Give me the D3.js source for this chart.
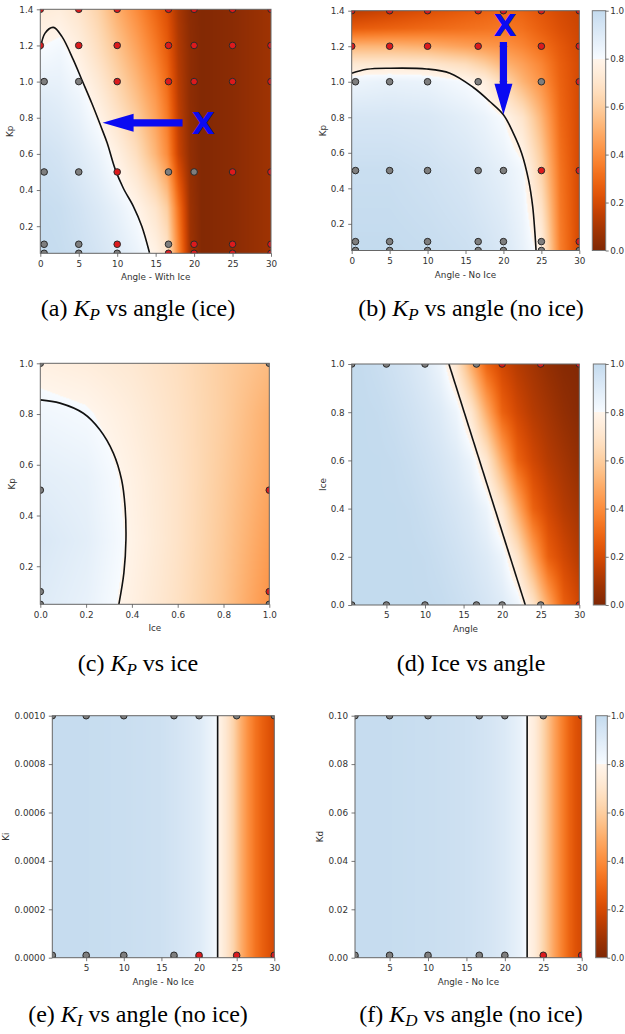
<!DOCTYPE html>
<html><head><meta charset="utf-8">
<script src="https://cdn.jsdelivr.net/npm/d3@7"></script>
<style>body{margin:0;background:#fff}svg{display:block}</style>
</head><body><svg id="fig" width="625" height="1034"></svg>
<script>
// ---------------- DATA ----------------
// (a) Kp vs angle (with ice): surface samples
const aXs = [0, 2.5, 5, 7.5, 10, 12.5, 15, 16.5, 18, 19.5, 21, 25, 30];
const aYs = [0.05, 0.3, 0.6, 0.9, 1.15, 1.4];
const aZ = [
  [1.0, 0.99, 0.97, 0.94, 0.90, 0.85, 0.78, 0.70, 0.38, 0.08, 0.01, 0.03, 0.08],
  [0.99, 0.98, 0.95, 0.91, 0.86, 0.795, 0.70, 0.60, 0.32, 0.07, 0.01, 0.03, 0.08],
  [0.96, 0.94, 0.90, 0.85, 0.77, 0.67, 0.52, 0.40, 0.17, 0.05, 0.01, 0.03, 0.08],
  [0.90, 0.88, 0.84, 0.76, 0.66, 0.56, 0.44, 0.33, 0.14, 0.04, 0.01, 0.03, 0.08],
  [0.81, 0.83, 0.77, 0.68, 0.58, 0.48, 0.36, 0.27, 0.12, 0.04, 0.01, 0.03, 0.08],
  [0.74, 0.75, 0.70, 0.62, 0.50, 0.40, 0.29, 0.22, 0.10, 0.03, 0.01, 0.03, 0.08]
];
const aContour = [[0,1.175],[0.6,1.267],[1.7,1.30],[2.8,1.25],[4.3,1.12],[5.4,1.01],[6.7,0.88],[7.9,0.75],[8.7,0.66],[9.7,0.52],[10.8,0.41],[12.1,0.31],[13.2,0.2],[14.2,0.053]];
const aPoints = [
  [0,1.4,"r"],[5,1.4,"r"],[10,1.4,"r"],[16.67,1.4,"r"],[20,1.4,"r"],[25,1.4,"r"],[30,1.4,"r"],
  [0,1.2,"r"],[5,1.2,"r"],[10,1.2,"r"],[16.67,1.2,"r"],[20,1.2,"r"],[25,1.2,"r"],[30,1.2,"r"],
  [0.5,1.0,"g"],[5,1.0,"g"],[10,1.0,"r"],[16.67,1.0,"r"],[20,1.0,"r"],[25,1.0,"r"],[30,1.0,"r"],
  [0.5,0.5,"g"],[5,0.5,"g"],[10,0.5,"r"],[16.67,0.5,"g"],[20,0.5,"g"],[25,0.5,"r"],[30,0.5,"r"],
  [0.5,0.1,"g"],[5,0.1,"g"],[10,0.1,"r"],[16.67,0.1,"g"],[20,0.1,"r"],[25,0.1,"r"],[30,0.1,"r"],
  [0.5,0.05,"g"],[5,0.05,"g"],[10,0.05,"g"],[16.67,0.05,"r"],[20,0.05,"r"],[25,0.05,"r"],[30,0.05,"r"]
];

// (b) Kp vs angle (no ice)
const bXs = [0, 5, 10, 15, 17.5, 20, 22.5, 25, 27.5, 30];
const bYs = [0.05, 0.5, 0.8, 1.0, 1.1, 1.2, 1.3, 1.4];
const bZ = [
  [1.0, 1.0, 0.99, 0.97, 0.95, 0.92, 0.86, 0.77, 0.36, 0.2],
  [0.98, 0.98, 0.96, 0.93, 0.90, 0.87, 0.82, 0.62, 0.33, 0.2],
  [0.93, 0.93, 0.92, 0.88, 0.85, 0.80, 0.70, 0.52, 0.30, 0.2],
  [0.84, 0.86, 0.85, 0.805, 0.76, 0.64, 0.52, 0.42, 0.28, 0.2],
  [0.72, 0.72, 0.71, 0.66, 0.60, 0.52, 0.46, 0.38, 0.27, 0.2],
  [0.52, 0.52, 0.50, 0.46, 0.44, 0.42, 0.38, 0.32, 0.25, 0.19],
  [0.26, 0.28, 0.30, 0.32, 0.33, 0.34, 0.32, 0.27, 0.22, 0.18],
  [0.14, 0.18, 0.22, 0.26, 0.28, 0.30, 0.28, 0.24, 0.20, 0.17]
];
const bContour = [[0,1.048],[2,1.07],[5,1.076],[9.9,1.072],[12.95,1.048],[16,0.969],[18.2,0.889],[20,0.814],[21.3,0.711],[22.4,0.598],[23.3,0.449],[23.85,0.30],[24.15,0.149],[24.3,0.05]];
const bPoints = [
  [0,1.4,"r"],[5,1.4,"r"],[10,1.4,"r"],[16.67,1.4,"r"],[20,1.4,"r"],[25,1.4,"r"],[30,1.4,"r"],
  [0,1.2,"r"],[5,1.2,"r"],[10,1.2,"r"],[16.67,1.2,"r"],[20,1.2,"r"],[25,1.2,"r"],[30,1.2,"r"],
  [0.5,1.0,"g"],[5,1.0,"g"],[10,1.0,"g"],[16.67,1.0,"g"],[20,1.0,"g"],[25,1.0,"g"],[30,1.0,"r"],
  [0.5,0.5,"g"],[5,0.5,"g"],[10,0.5,"g"],[16.67,0.5,"g"],[20,0.5,"g"],[25,0.5,"r"],[30,0.5,"r"],
  [0.5,0.1,"g"],[5,0.1,"g"],[10,0.1,"g"],[16.67,0.1,"g"],[20,0.1,"g"],[25,0.1,"g"],[30,0.1,"r"],
  [0.5,0.05,"g"],[5,0.05,"g"],[10,0.05,"g"],[16.67,0.05,"g"],[20,0.05,"g"],[25,0.05,"g"],[30,0.05,"g"]
];

// (c) Kp vs ice
const cXs = [0, 0.2, 0.4, 0.6, 0.8, 1.0];
const cYs = [0.05, 0.3, 0.55, 0.8, 1.0];
const cZ = [
  [0.90, 0.86, 0.77, 0.68, 0.57, 0.42],
  [0.92, 0.88, 0.785, 0.69, 0.58, 0.45],
  [0.88, 0.86, 0.775, 0.69, 0.59, 0.48],
  [0.83, 0.81, 0.75, 0.68, 0.60, 0.50],
  [0.77, 0.75, 0.72, 0.67, 0.60, 0.54]
];
const cContour = [[0,0.856],[0.086,0.843],[0.188,0.803],[0.26,0.738],[0.319,0.646],[0.355,0.541],[0.37,0.436],[0.374,0.305],[0.365,0.174],[0.343,0.05]];
const cPoints = [[0,1.0,"g"],[0,0.5,"g"],[0,0.1,"g"],[0,0.05,"g"],[1,1.0,"g"],[1,0.5,"r"],[1,0.1,"r"],[1,0.05,"g"]];

// (d) Ice vs angle
const dXs = [0.5, 2, 4, 6, 8, 10, 12, 14, 16, 18, 20, 22, 24, 26, 28, 30];
const dYs = [0, 0.2, 0.4, 0.6, 0.8, 1.0];
const dZ = [
  [1,1,1,1,1,1,0.995,0.98,0.96,0.935,0.9,0.84,0.70,0.48,0.27,0.19],
  [1,1,1,1,1,0.995,0.98,0.96,0.935,0.9,0.84,0.70,0.48,0.27,0.19,0.13],
  [1,1,1,1,0.995,0.98,0.96,0.935,0.9,0.84,0.71,0.49,0.28,0.19,0.13,0.09],
  [1,1,1,0.995,0.98,0.96,0.935,0.9,0.84,0.71,0.49,0.28,0.19,0.13,0.09,0.05],
  [1,1,0.995,0.98,0.96,0.935,0.9,0.84,0.71,0.49,0.28,0.19,0.13,0.09,0.05,0.02],
  [1,0.995,0.98,0.96,0.935,0.9,0.84,0.71,0.49,0.28,0.19,0.13,0.09,0.05,0.02,0.01]
];
const dContour = [[13.1,1.0],[23.0,0.0]];
const dPoints = [
  [0.5,1,"g"],[5,1,"g"],[10,1,"g"],[16.67,1,"g"],[20,1,"r"],[25,1,"r"],[30,1,"r"],
  [0.5,0,"g"],[5,0,"g"],[10,0,"g"],[16.67,0,"g"],[20,0,"g"],[25,0,"g"],[30,0,"r"]
];

// (e) Ki vs angle (no ice)
const eXs = [0.5, 5, 10, 15, 18, 20, 21.5, 22.5, 23.5, 24.5, 25.5, 26.5, 27.5, 28.5, 30];
const eZ = [0.99, 0.99, 0.98, 0.965, 0.93, 0.9, 0.85, 0.8, 0.72, 0.63, 0.51, 0.41, 0.33, 0.27, 0.2];
const eContour = [[22.47,0],[22.47,0.001]];
const ePoints = [
  [0.5,0.001,"g"],[5,0.001,"g"],[10,0.001,"g"],[16.67,0.001,"g"],[20,0.001,"g"],[25,0.001,"g"],[30,0.001,"g"],
  [0.5,0,"g"],[5,0,"g"],[10,0,"g"],[16.67,0,"g"],[20,0,"r"],[25,0,"r"],[30,0,"r"],
  [0.5,0.00001,"g"],[5,0.00001,"g"],[10,0.00001,"g"],[16.67,0.00001,"g"],[20,0.00001,"r"],[25,0.00001,"r"],[30,0.00001,"r"]
];

// (f) Kd vs angle (no ice)
const fXs = [0.5, 5, 10, 15, 18, 20, 22, 22.9, 23.8, 24.7, 25.6, 26.5, 27.4, 28.3, 29.2, 30];
const fZ = [0.99, 0.99, 0.98, 0.965, 0.94, 0.91, 0.86, 0.8, 0.75, 0.66, 0.56, 0.46, 0.37, 0.29, 0.23, 0.2];
const fContour = [[22.9,0],[22.9,0.1]];
const fPoints = [
  [0.5,0.1,"g"],[5,0.1,"g"],[10,0.1,"g"],[16.67,0.1,"g"],[20,0.1,"g"],[25,0.1,"g"],[30,0.1,"r"],
  [0.5,0,"g"],[5,0,"g"],[10,0,"g"],[16.67,0,"g"],[20,0,"g"],[25,0,"r"],[30,0,"r"],
  [0.5,0.001,"g"],[5,0.001,"g"],[10,0.001,"g"],[16.67,0.001,"g"],[20,0.001,"g"],[25,0.001,"r"],[30,0.001,"r"]
];

// tick labels
const angleTicks0 = [0, 5, 10, 15, 20, 25, 30];
const angleTicks = [5, 10, 15, 20, 25, 30];
const kpTicks = [0.2, 0.4, 0.6, 0.8, 1.0, 1.2, 1.4];
const unitTicks = [0.0, 0.2, 0.4, 0.6, 0.8, 1.0];
const kpTicksC = [0.2, 0.4, 0.6, 0.8, 1.0];
const kiTicks = [0, 0.0002, 0.0004, 0.0006, 0.0008, 0.0010];
const kdTicks = [0, 0.02, 0.04, 0.06, 0.08, 0.10];
const cbTicks = [0.0, 0.2, 0.4, 0.6, 0.8, 1.0];

const captions = [
  {lab:"(a) ", sym:"K", sub:"P", rest:" vs angle (ice)"},
  {lab:"(b) ", sym:"K", sub:"P", rest:" vs angle (no ice)"},
  {lab:"(c) ", sym:"K", sub:"P", rest:" vs ice"},
  {lab:"(d) Ice vs angle", sym:"", sub:"", rest:""},
  {lab:"(e) ", sym:"K", sub:"I", rest:" vs angle (no ice)"},
  {lab:"(f) ", sym:"K", sub:"D", rest:" vs angle (no ice)"}
];

// ---------------- LAYOUT ----------------
const panels = [
  {key:"a", x0:40.3, x1:271, y0:9.3, y1:253.3, xd:[0,30], yd:[0.05,1.4], xt:angleTicks0, xf:"d", yt:kpTicks, yf:".1f",
   xl:"Angle - With Ice", yl:"Kp", ylOff:30, gx:aXs, gy:aYs, grid:aZ, contour:aContour, pts:aPoints, cb:null,
   arrow:{from:[18.5,0.772], to:[8.1,0.772]}, mark:[21.2,0.77], cap:{x:138, y:316, i:0}},
  {key:"b", x0:351.7, x1:579.3, y0:10.7, y1:250.5, xd:[0,30], yd:[0.05,1.4], xt:angleTicks0, xf:"d", yt:kpTicks, yf:".1f",
   xl:"Angle - No Ice", yl:"Kp", ylOff:28.4, gx:bXs, gy:bYs, grid:bZ, contour:bContour, pts:bPoints, cb:{x0:592.3, x1:605.7, pad:1.5, fs:8.8},
   arrow:{from:[20,1.224], to:[20,0.814]}, mark:[20.2,1.317], cap:{x:471, y:316, i:1}},
  {key:"c", x0:40.3, x1:269.3, y0:363.3, y1:604.3, xd:[0,1], yd:[0.05,1.0], xt:unitTicks, xf:".1f", yt:kpTicksC, yf:".1f",
   xl:"Ice", yl:"Kp", ylOff:28, gx:cXs, gy:cYs, grid:cZ, contour:cContour, pts:cPoints, cb:null, cap:{x:138, y:671, i:2}},
  {key:"d", x0:351.7, x1:579.3, y0:364, y1:605, xd:[0.5,30], yd:[0,1], xt:angleTicks, xf:"d", yt:unitTicks, yf:".1f",
   xl:"Angle", yl:"Ice", ylOff:28.7, gx:dXs, gy:dYs, grid:dZ, contour:dContour, pts:dPoints, cb:{x0:593.3, x1:605.7, pad:1.5, fs:8.8}, cap:{x:471, y:671, i:3}},
  {key:"e", x0:52.3, x1:274.3, y0:715.7, y1:957.7, xd:[0.5,30], yd:[0,0.001], xt:angleTicks, xf:"d", yt:kiTicks, yf:".4f",
   xl:"Angle - No Ice", yl:"Ki", ylOff:46, gx:eXs, gy:[0,0.001], grid:[eZ,eZ], contour:eContour, pts:ePoints, cb:null, cap:{x:138, y:1022, i:4}},
  {key:"f", x0:355, x1:581.7, y0:715.7, y1:957.7, xd:[0.5,30], yd:[0,0.1], xt:angleTicks, xf:"d", yt:kdTicks, yf:".2f",
   xl:"Angle - No Ice", yl:"Kd", ylOff:35, gx:fXs, gy:[0,0.1], grid:[fZ,fZ], contour:fContour, pts:fPoints, cb:{x0:595.7, x1:607.3, pad:0.8, fs:8.2}, cap:{x:471, y:1022, i:5}}
];

// ---------------- DRAW ----------------
const svg = d3.select("#fig");
svg.append("rect").attr("width", 625).attr("height", 1034).attr("fill", "#fff");
const defs = svg.append("defs");
const TICK_FONT = 8.8, TXT = "#333";

function cmap(v) {
  v = Math.max(0, Math.min(1, v));
  return v >= 0.8 ? d3.interpolateBlues((v - 0.8) / 0.2 * 0.25) : d3.interpolateOranges(1 - v / 0.8);
}
const LUT = d3.range(1001).map(i => d3.rgb(cmap(i / 1000)));

// shared colorbar gradient
const grad = defs.append("linearGradient").attr("id", "cbgrad").attr("x1", 0).attr("y1", 1).attr("x2", 0).attr("y2", 0);
d3.range(0, 0.8, 0.01).concat([0.7999, 0.8]).concat(d3.range(0.81, 1.0001, 0.01)).forEach(t => {
  grad.append("stop").attr("offset", t).attr("stop-color", cmap(t));
});

function styleAxis(sel, fs) {
  sel.select(".domain").remove();
  sel.selectAll(".tick line").attr("stroke", "#555").attr("stroke-width", 0.8);
  sel.selectAll(".tick text").attr("font-family", "DejaVu Sans").attr("font-size", fs || TICK_FONT).attr("fill", TXT);
}

function drawPanel(p) {
  const x = d3.scaleLinear().domain(p.xd).range([p.x0, p.x1]);
  const y = d3.scaleLinear().domain(p.yd).range([p.y1, p.y0]);
  const g = svg.append("g");
  const clipId = "clip-" + p.key;
  defs.append("clipPath").attr("id", clipId).append("rect")
    .attr("x", p.x0).attr("y", p.y0).attr("width", p.x1 - p.x0).attr("height", p.y1 - p.y0);

  // heatmap surface
  const W = Math.round(p.x1 - p.x0), H = Math.round(p.y1 - p.y0);
  const cv = document.createElement("canvas"); cv.width = W; cv.height = H;
  const ctx = cv.getContext("2d"); const img = ctx.createImageData(W, H);
  const rowScales = p.grid.map(row => d3.scaleLinear().domain(p.gx).range(row).clamp(true));
  for (let i = 0; i < W; i++) {
    const xv = x.invert(p.x0 + (i + 0.5) * (p.x1 - p.x0) / W);
    const col = rowScales.map(s => s(xv));
    const cs = d3.scaleLinear().domain(p.gy).range(col).clamp(true);
    for (let j = 0; j < H; j++) {
      const yv = y.invert(p.y0 + (j + 0.5) * (p.y1 - p.y0) / H);
      const v = Math.max(0, Math.min(1, cs(yv)));
      const c = LUT[Math.round(v * 1000)];
      const k = (j * W + i) * 4;
      img.data[k] = c.r; img.data[k + 1] = c.g; img.data[k + 2] = c.b; img.data[k + 3] = 255;
    }
  }
  ctx.putImageData(img, 0, 0);
  g.append("image").attr("href", cv.toDataURL()).attr("x", p.x0).attr("y", p.y0)
    .attr("width", p.x1 - p.x0).attr("height", p.y1 - p.y0).attr("preserveAspectRatio", "none");

  // contour
  g.append("path").datum(p.contour).attr("clip-path", `url(#${clipId})`)
    .attr("d", d3.line().x(d => x(d[0])).y(d => y(d[1])).curve(p.contour.length > 2 ? d3.curveCatmullRom : d3.curveLinear))
    .attr("fill", "none").attr("stroke", "#111").attr("stroke-width", 1.6);

  // sample points
  g.append("g").attr("clip-path", `url(#${clipId})`).selectAll("circle").data(p.pts).join("circle")
    .attr("cx", d => x(d[0])).attr("cy", d => y(d[1])).attr("r", 3.3)
    .attr("fill", d => d[2] === "r" ? "#dc1a1d" : "#7e7e7e")
    .attr("stroke", "#2a2a2a").attr("stroke-width", 1);

  // frame
  g.append("rect").attr("x", p.x0).attr("y", p.y0).attr("width", p.x1 - p.x0).attr("height", p.y1 - p.y0)
    .attr("fill", "none").attr("stroke", "#666").attr("stroke-width", 1);

  // axes
  g.append("g").attr("transform", `translate(0,${p.y1})`)
    .call(d3.axisBottom(x).tickValues(p.xt).tickFormat(d3.format(p.xf)).tickSize(3.5).tickPadding(3.5)).call(styleAxis);
  g.append("g").attr("transform", `translate(${p.x0},0)`)
    .call(d3.axisLeft(y).tickValues(p.yt).tickFormat(d3.format(p.yf)).tickSize(3.5).tickPadding(3.5)).call(styleAxis);

  g.append("text").attr("x", (p.x0 + p.x1) / 2).attr("y", p.y1 + 27).attr("text-anchor", "middle")
    .attr("font-family", "DejaVu Sans").attr("font-size", TICK_FONT).attr("fill", TXT).text(p.xl);
  const ylx = p.x0 - p.ylOff + 3, yly = (p.y0 + p.y1) / 2;
  g.append("text").attr("transform", `translate(${ylx},${yly}) rotate(-90)`).attr("text-anchor", "middle")
    .attr("font-family", "DejaVu Sans").attr("font-size", TICK_FONT).attr("fill", TXT).text(p.yl);

  // colorbar
  if (p.cb) {
    const cy = d3.scaleLinear().domain([0, 1]).range([p.y1, p.y0]);
    g.append("rect").attr("x", p.cb.x0).attr("y", p.y0).attr("width", p.cb.x1 - p.cb.x0).attr("height", p.y1 - p.y0)
      .attr("fill", "url(#cbgrad)").attr("stroke", "#777").attr("stroke-width", 1);
    g.append("g").attr("transform", `translate(${p.cb.x1},0)`)
      .call(d3.axisRight(cy).tickValues(cbTicks).tickFormat(d3.format(".1f")).tickSize(3).tickPadding(p.cb.pad))
      .call(s => styleAxis(s, p.cb.fs));
  }

  // annotation arrow + mark
  if (p.arrow) {
    const x1 = x(p.arrow.from[0]), y1 = y(p.arrow.from[1]), x2 = x(p.arrow.to[0]), y2 = y(p.arrow.to[1]);
    const L = Math.hypot(x2 - x1, y2 - y1), ux = (x2 - x1) / L, uy = (y2 - y1) / L, nx = -uy, ny = ux;
    const sw = 3.6, hl = 31, hw = 9;
    const bx = x2 - ux * hl, by = y2 - uy * hl;
    const ptsA = [[x1 + nx * sw, y1 + ny * sw], [bx + nx * sw, by + ny * sw], [bx + nx * hw, by + ny * hw], [x2, y2],
      [bx - nx * hw, by - ny * hw], [bx - nx * sw, by - ny * sw], [x1 - nx * sw, y1 - ny * sw]];
    g.append("polygon").attr("points", ptsA.map(q => q.join(",")).join(" ")).attr("fill", "#0a0af2");
  }
  if (p.mark) {
    g.append("text").attr("x", x(p.mark[0])).attr("y", y(p.mark[1]) + 11).attr("text-anchor", "middle")
      .attr("font-family", "DejaVu Sans").attr("font-weight", "bold").attr("font-size", 30).attr("fill", "#0a0af2").text("X");
  }

  // caption
  const c = captions[p.cap.i];
  const t = svg.append("text").attr("x", p.cap.x).attr("y", p.cap.y).attr("text-anchor", "middle")
    .attr("font-family", "Liberation Serif").attr("font-size", 24).attr("fill", "#000");
  t.append("tspan").text(c.lab);
  if (c.sym) {
    t.append("tspan").attr("font-style", "italic").text(c.sym);
    t.append("tspan").attr("font-style", "italic").attr("font-size", 17).attr("dy", 4).text(c.sub);
    t.append("tspan").attr("dy", -4).text(c.rest);
  }
}

panels.forEach(drawPanel);
</script></body></html>
